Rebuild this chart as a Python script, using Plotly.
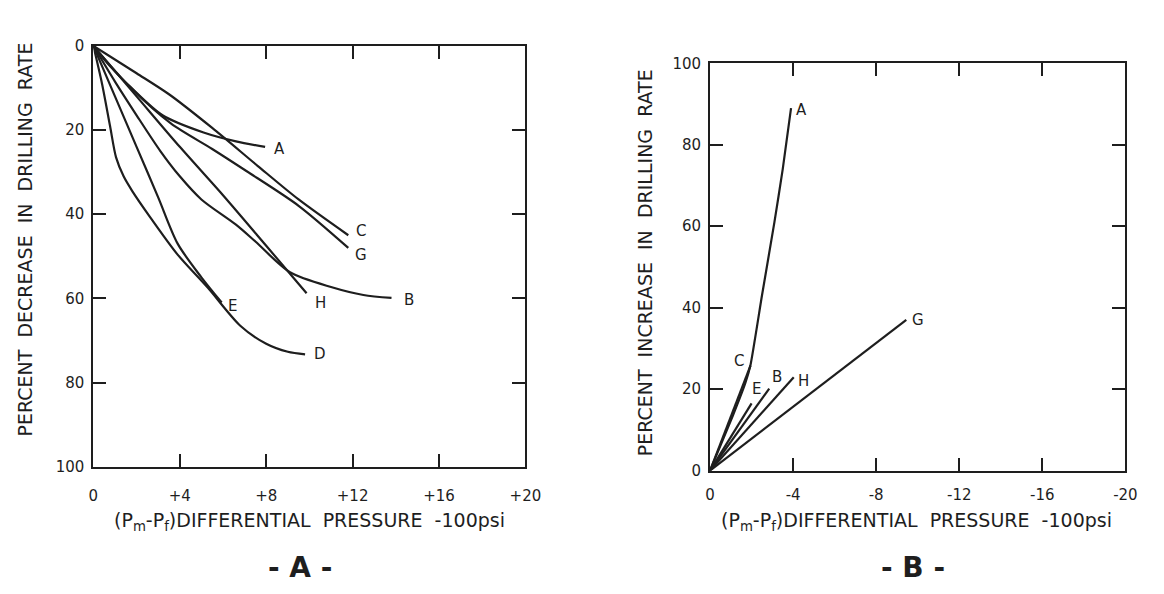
import plotly.graph_objects as go

# ---------------- Panel A: overbalance (Pm - Pf > 0), percent decrease ----------------
a_A_x = [0, 0.8, 1.7, 3.2, 5.1, 6.6, 7.95]
a_A_y = [0, 5.0, 9.7, 16.5, 20.6, 22.7, 24.0]

a_B_x = [0, 1.0, 2.0, 3.1, 4.0, 5.0, 6.6, 7.5, 9.1, 11.0, 12.5, 13.8]
a_B_y = [0, 8.5, 16.5, 25.0, 31.0, 36.5, 42.5, 46.5, 53.8, 57.3, 59.2, 59.9]

a_C_x = [0, 2.0, 3.5, 5.5, 7.6, 9.5, 11.8]
a_C_y = [0, 6.5, 11.5, 19.5, 28.5, 36.5, 45.0]

a_D_x = [0, 0.4, 0.77, 1.05, 1.4, 1.8, 2.6, 3.9, 5.3, 6.8, 8.0, 9.0, 9.8]
a_D_y = [0, 9.0, 19.0, 26.5, 31.0, 34.5, 40.5, 49.6, 57.5, 66.5, 70.8, 72.7, 73.3]

a_E_x = [0, 1.0, 2.0, 3.0, 3.9, 5.0, 5.94]
a_E_y = [0, 12.0, 24.0, 36.0, 47.0, 55.0, 61.0]

a_G_x = [0, 1.7, 3.6, 5.5, 7.1, 9.5, 11.8]
a_G_y = [0, 9.8, 18.5, 24.5, 29.8, 38.0, 48.0]

a_H_x = [0, 2.0, 4.0, 6.0, 8.0, 9.87]
a_H_y = [0, 12.0, 24.0, 35.5, 47.5, 58.8]

# label anchor points for panel A curves
a_lab_names = ["A", "B", "C", "D", "E", "G", "H"]
a_lab_x = [8.6, 14.6, 12.4, 10.5, 6.45, 12.4, 10.5]
a_lab_y = [24.4, 60.3, 43.9, 73.3, 61.8, 49.6, 61.0]

a_xtick_vals = [0, 4, 8, 12, 16, 20]
a_xtick_text = ["0", "+4", "+8", "+12", "+16", "+20"]
a_ytick_vals = [0, 20, 40, 60, 80, 100]

# ---------------- Panel B: underbalance (Pm - Pf < 0), percent increase ----------------
b_A_x = [0, -1.1, -1.7, -1.95, -2.5, -3.1, -3.5, -3.9]
b_A_y = [0, 13.5, 21.5, 26.0, 43.0, 61.0, 74.0, 89.0]

b_B_x = [0, -2.85]
b_B_y = [0, 20.1]

b_C_x = [0, -1.95]
b_C_y = [0, 25.8]

b_E_x = [0, -2.0]
b_E_y = [0, 16.5]

b_G_x = [0, -9.45]
b_G_y = [0, 37.0]

b_H_x = [0, -4.03]
b_H_y = [0, 22.9]

b_lab_names = ["A", "C", "E", "B", "H", "G"]
b_lab_x = [-4.4, -1.4, -2.25, -3.2, -4.5, -10.0]
b_lab_y = [88.5, 26.9, 20.1, 22.9, 22.1, 36.9]

b_xtick_vals = [0, -4, -8, -12, -16, -20]
b_xtick_text = ["0", "-4", "-8", "-12", "-16", "-20"]
b_ytick_vals = [0, 20, 40, 60, 80, 100]

INK = "#1e1e1e"
FONT = "DejaVu Sans"
W, H = 1164, 594
GAP = "\u00a0\u00a0"

fig = go.Figure()

a_curves = [(a_A_x, a_A_y), (a_B_x, a_B_y), (a_C_x, a_C_y), (a_D_x, a_D_y),
            (a_E_x, a_E_y), (a_G_x, a_G_y), (a_H_x, a_H_y)]
for cx, cy in a_curves:
    fig.add_trace(go.Scatter(x=cx, y=cy, mode="lines", xaxis="x", yaxis="y",
                             line=dict(color=INK, width=2.2, shape="spline", smoothing=0.8),
                             showlegend=False, hoverinfo="skip"))

b_curves = [(b_A_x, b_A_y), (b_B_x, b_B_y), (b_C_x, b_C_y),
            (b_E_x, b_E_y), (b_G_x, b_G_y), (b_H_x, b_H_y)]
for cx, cy in b_curves:
    fig.add_trace(go.Scatter(x=cx, y=cy, mode="lines", xaxis="x2", yaxis="y2",
                             line=dict(color=INK, width=2.2, shape="spline", smoothing=0.5),
                             showlegend=False, hoverinfo="skip"))

# curve letters
for name, lx, ly in zip(a_lab_names, a_lab_x, a_lab_y):
    fig.add_annotation(x=lx, y=ly, xref="x", yref="y", text=name, showarrow=False,
                       xanchor="center", yanchor="middle",
                       font=dict(family=FONT, size=15, color=INK))
for name, lx, ly in zip(b_lab_names, b_lab_x, b_lab_y):
    fig.add_annotation(x=lx, y=ly, xref="x2", yref="y2", text=name, showarrow=False,
                       xanchor="center", yanchor="middle",
                       font=dict(family=FONT, size=15, color=INK))

axis_common = dict(
    showline=True, linecolor=INK, linewidth=2, mirror="allticks",
    ticks="inside", ticklen=13, tickwidth=2, tickcolor=INK,
    showgrid=False, zeroline=False, fixedrange=True,
    tickfont=dict(family=FONT, size=15, color=INK),
)

fig.update_layout(
    width=W, height=H,
    margin=dict(l=0, r=0, t=0, b=0),
    paper_bgcolor="white", plot_bgcolor="white",
    xaxis=dict(domain=[90 / W, 530 / W], range=[0, 20], anchor="y",
               tickvals=a_xtick_vals, ticktext=a_xtick_text, ticklabelstandoff=14,
               **axis_common),
    yaxis=dict(domain=[1 - 472 / H, 1 - 38 / H], range=[100, 0], anchor="x",
               tickvals=a_ytick_vals, ticklabelstandoff=4, **axis_common),
    xaxis2=dict(domain=[718 / W, 1141 / W], range=[0, -20], anchor="y2",
                tickvals=b_xtick_vals, ticktext=b_xtick_text, ticklabelstandoff=9,
                **axis_common),
    yaxis2=dict(domain=[1 - 476 / H, 1 - 56 / H], range=[0, 100], anchor="x2",
                tickvals=b_ytick_vals, ticklabelstandoff=4, **axis_common),
)

title_font = dict(family=FONT, size=19, color=INK)
xtitle = "(P<sub>m</sub>-P<sub>f</sub>)DIFFERENTIAL" + GAP + "PRESSURE" + GAP + "-100psi"
a_ytitle = GAP.join(["PERCENT", "DECREASE", "IN", "DRILLING", "RATE"])
b_ytitle = GAP.join(["PERCENT", "INCREASE", "IN", "DRILLING", "RATE"])

def paper_text(px, py, text, font, angle=0):
    fig.add_annotation(x=px / W, y=1 - py / H, xref="paper", yref="paper",
                       xanchor="center", yanchor="middle",
                       text=text, textangle=angle, showarrow=False, font=font)

paper_text(20, 238, a_ytitle, dict(family=FONT, size=19, color=INK), -90)
paper_text(652, 262, b_ytitle, dict(family=FONT, size=19, color=INK), -90)
paper_text(310, 528, xtitle, title_font)
paper_text(928, 528, xtitle, title_font)

panel_font = dict(family=FONT, size=28, color=INK, weight="bold")
paper_text(300, 576, "- A -", panel_font)
paper_text(925, 576, "- B -", panel_font)

fig.write_html("out.html")
